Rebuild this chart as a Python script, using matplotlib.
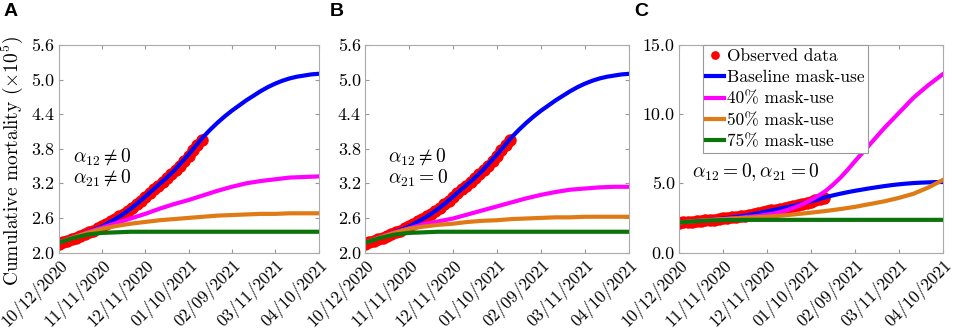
import numpy as np
import matplotlib
matplotlib.use('Agg')
import matplotlib.pyplot as plt

plt.rcParams['font.family'] = 'serif'
plt.rcParams['font.serif'] = ['cmr10']
plt.rcParams['mathtext.fontset'] = 'cm'
plt.rcParams['axes.unicode_minus'] = False

# days since 10/12/2020
tick_days = [0, 30, 60, 90, 120, 150, 180]
tick_labels = ['10/12/2020', '11/11/2020', '12/11/2020', '01/10/2021',
               '02/09/2021', '03/11/2021', '04/10/2021']

# observed cumulative deaths (x 10^5), every 3 days
obs_days = np.arange(0, 100, 3)
obs_vals = [2.15, 2.18, 2.20, 2.23, 2.26, 2.29, 2.32, 2.35, 2.38, 2.42,
            2.46, 2.50, 2.54, 2.58, 2.63, 2.67, 2.72, 2.78, 2.84, 2.90,
            2.97, 3.04, 3.10, 3.16, 3.23, 3.29, 3.36, 3.43, 3.50, 3.59,
            3.68, 3.77, 3.87, 3.96]

# model curves
days5 = np.arange(0, 181, 5)
days10 = np.arange(0, 181, 10)

baseline = [2.17, 2.21, 2.26, 2.30, 2.35, 2.40, 2.45, 2.52, 2.59, 2.67,
            2.76, 2.86, 2.97, 3.08, 3.19, 3.30, 3.42, 3.56, 3.70, 3.85,
            4.00, 4.13, 4.25, 4.36, 4.46, 4.55, 4.64, 4.72, 4.80, 4.87,
            4.93, 4.98, 5.02, 5.05, 5.07, 5.09, 5.10]
green_all = [2.17, 2.25, 2.31, 2.34, 2.35, 2.36, 2.36, 2.36, 2.36, 2.36,
             2.36, 2.36, 2.36, 2.36, 2.36, 2.36, 2.36, 2.36, 2.36]

mask40_A = [2.17, 2.26, 2.35, 2.43, 2.51, 2.59, 2.67, 2.76, 2.84, 2.91,
            2.99, 3.07, 3.14, 3.20, 3.24, 3.27, 3.30, 3.31, 3.32]
mask50_A = [2.17, 2.26, 2.34, 2.41, 2.46, 2.50, 2.53, 2.56, 2.58, 2.60,
            2.62, 2.64, 2.65, 2.66, 2.67, 2.67, 2.68, 2.68, 2.68]

mask40_B = [2.17, 2.26, 2.35, 2.42, 2.49, 2.54, 2.59, 2.66, 2.73, 2.80,
            2.87, 2.94, 3.00, 3.05, 3.09, 3.11, 3.13, 3.14, 3.14]
mask50_B = [2.17, 2.26, 2.34, 2.41, 2.45, 2.48, 2.50, 2.53, 2.55, 2.56,
            2.58, 2.59, 2.60, 2.61, 2.61, 2.62, 2.62, 2.62, 2.62]

mask40_C = [2.17, 2.22, 2.27, 2.31, 2.35, 2.39, 2.42, 2.46, 2.50, 2.55,
            2.60, 2.66, 2.74, 2.83, 2.95, 3.11, 3.30, 3.53, 3.80, 4.10,
            4.45, 4.90, 5.40, 5.98, 6.60, 7.20, 7.80, 8.40, 9.00, 9.55,
            10.1, 10.65, 11.2, 11.65, 12.1, 12.5, 12.9]
mask50_C = [2.17, 2.26, 2.34, 2.41, 2.47, 2.53, 2.59, 2.67, 2.77, 2.88,
            3.00, 3.14, 3.30, 3.50, 3.70, 3.95, 4.25, 4.70, 5.25]

W, H = 957, 332
fig = plt.figure(figsize=(W / 100, H / 100), dpi=100)

boxes = [(58.5, 260), (365, 264), (679, 264)]
axes = []
for left, width in boxes:
    axes.append(fig.add_axes([left / W, 1 - 252.5 / H, width / W, 207.5 / H]))

col_blue = '#0000ff'
col_mag = '#ff00ff'
col_orange = '#df7a15'
col_green = '#0b740b'

panels = [
    (days10, mask40_A, mask50_A, (2.0, 5.6), np.arange(2.0, 5.61, 0.6)),
    (days10, mask40_B, mask50_B, (2.0, 5.6), np.arange(2.0, 5.61, 0.6)),
    (days5, mask40_C, mask50_C, (0, 15), [0, 5, 10, 15]),
]

for ax, (d40, m40, m50, ylim, yt) in zip(axes, panels):
    ax.plot(obs_days, obs_vals, 'o', color='red', ms=9, mec='none',
            label='Observed data')
    ax.plot(days5, baseline, color=col_blue, lw=3, label='Baseline mask-use')
    ax.plot(d40, m40, color=col_mag, lw=3, label='40% mask-use')
    ax.plot(days10, m50, color=col_orange, lw=3, label='50% mask-use')
    ax.plot(days10, green_all, color=col_green, lw=3, label='75% mask-use')
    ax.set_xlim(0, 180)
    ax.set_ylim(*ylim)
    ax.set_yticks(yt)
    ax.set_yticklabels(['%.1f' % v for v in yt], fontsize=13)
    ax.set_xticks(tick_days)
    ax.set_xticklabels(tick_labels, rotation=45, ha='right',
                       rotation_mode='anchor', fontsize=12.5)
    ax.tick_params(direction='in', top=True, right=True, length=3,
                   color='#999999', pad=3)
    for s in ax.spines.values():
        s.set_color('#aaaaaa')
        s.set_linewidth(0.8)

axes[0].set_ylabel(r'Cumulative mortality $(\times 10^5)$', fontsize=14)
axes[0].yaxis.set_label_coords(-0.13, 0.44)

axes[0].text(10, 3.66, r'$\alpha_{12} \neq 0$', fontsize=14, va='center')
axes[0].text(10, 3.29, r'$\alpha_{21} \neq 0$', fontsize=14, va='center')
axes[1].text(16, 3.66, r'$\alpha_{12} \neq 0$', fontsize=14, va='center')
axes[1].text(16, 3.29, r'$\alpha_{21} = 0$', fontsize=14, va='center')
axes[2].text(9, 5.8, r'$\alpha_{12} = 0, \alpha_{21} = 0$', fontsize=14,
             va='center')

leg = axes[2].legend(loc='upper left', bbox_to_anchor=(0.09, 1.0),
                     borderaxespad=0, fontsize=12.5, handlelength=1.05,
                     handletextpad=0.15, labelspacing=0.35, borderpad=0.2,
                     fancybox=False, framealpha=1, markerscale=0.7)
leg.get_frame().set_edgecolor('#999999')
leg.get_frame().set_linewidth(0.8)

for lab, x in zip(['A', 'B', 'C'], [4, 330, 634]):
    fig.text(x / W, 1 - 3 / H, lab, fontsize=14, fontweight='bold',
             family='Liberation Sans', va='top', ha='left')

fig.savefig('out.png', dpi=100)
